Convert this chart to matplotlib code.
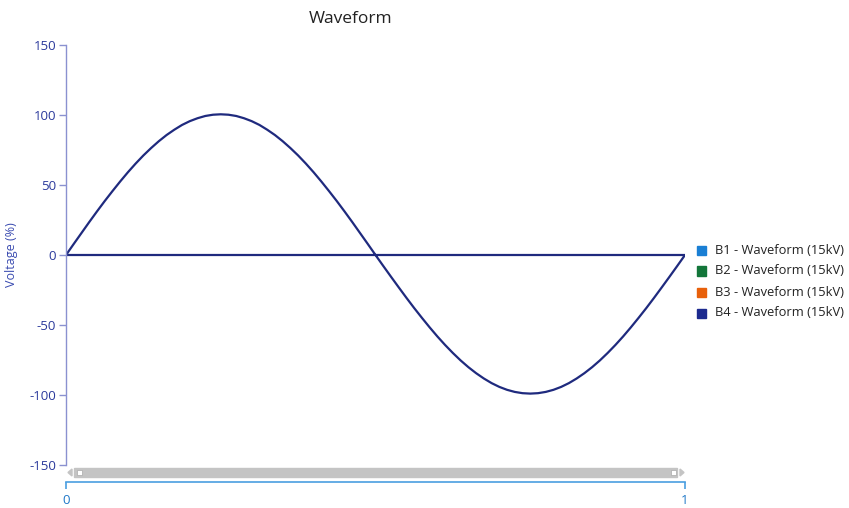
import matplotlib
matplotlib.use("Agg")
import matplotlib.pyplot as plt
from matplotlib.patches import Rectangle, Polygon

# Data (samples every 1/80 of the x range)
x_vals = [i / 80 for i in range(81)]
b4_vals = [0, 7.9, 15.7, 23.5, 31.1, 38.5, 45.6, 52.5, 59.1, 65.3,
           71.1, 76.4, 81.3, 85.7, 89.5, 92.9, 95.6, 97.7, 99.3, 100.2,
           100.5, 100.2, 99.3, 97.7, 95.6, 92.9, 89.5, 85.7, 81.3, 76.4,
           71.1, 65.3, 59.1, 52.5, 45.6, 38.5, 31.1, 23.5, 15.7, 7.9,
           0, -7.8, -15.5, -23.1, -30.6, -37.9, -44.9, -51.7, -58.2, -64.3,
           -70, -75.3, -80.1, -84.4, -88.2, -91.5, -94.2, -96.3, -97.8, -98.7,
           -99, -98.7, -97.8, -96.3, -94.2, -91.5, -88.2, -84.4, -80.1, -75.3,
           -70, -64.3, -58.2, -51.7, -44.9, -37.9, -30.6, -23.1, -15.5, -7.8,
           0]
# trace returns along the zero line
return_x = [1.0, 0.0]
return_y = [0, 0]

series_names = ["B1 - Waveform (15kV)", "B2 - Waveform (15kV)",
                "B3 - Waveform (15kV)", "B4 - Waveform (15kV)"]
series_colors = ["#1a7fd4", "#13763a", "#e8600a", "#1c2a8f"]

y_ticks = [-150, -100, -50, 0, 50, 100, 150]
x_ticks = [0, 1]

plt.rcParams['font.family'] = ['Open Sans', 'DejaVu Sans']
plt.rcParams['axes.unicode_minus'] = False

W, H = 849, 508
fig = plt.figure(figsize=(W / 100, H / 100), dpi=100)

def fx(px):
    return px / W

def fy(py):
    return 1 - py / H

ax = fig.add_axes([fx(66), fy(465), fx(685) - fx(66), fy(45) - fy(465)])
ax.plot(x_vals + return_x, b4_vals + return_y, color="#1f2a7e", lw=1.6,
        solid_joinstyle="round")
ax.set_xlim(0, 1)
ax.set_ylim(-150, 150)

spine_col = "#8a91d0"
label_col = "#2b3a9c"
for s in ["top", "right", "bottom"]:
    ax.spines[s].set_visible(False)
ax.spines["left"].set_color(spine_col)
ax.spines["left"].set_linewidth(1.0)
ax.set_xticks([])
ax.set_yticks(y_ticks)
ax.tick_params(axis="y", colors=spine_col, length=5, width=1,
               labelcolor=label_col, labelsize=9.5, pad=2)
ax.set_ylabel("Voltage (%)", color="#3a4bb0", fontsize=9)
ax.yaxis.set_label_coords((18 - 66) / 619, 0.5)

fig.text(fx(351), fy(19), "Waveform", ha="center", va="center",
         fontsize=12.5, color="#222222")

# bottom x axis
bx = fig.add_axes([fx(66), fy(482), fx(685) - fx(66), 0.0001])
bx.set_xlim(0, 1)
bx.set_yticks([])
for s in ["top", "right", "left"]:
    bx.spines[s].set_visible(False)
axis_blue = "#4a9ee0"
bx.spines["bottom"].set_color(axis_blue)
bx.spines["bottom"].set_linewidth(1.2)
bx.set_xticks(x_ticks)
bx.set_xticklabels([str(t) for t in x_ticks])
bx.tick_params(axis="x", colors=axis_blue, length=5, width=1.2,
               labelcolor="#1f78c8", labelsize=9.5, pad=4)

# scrollbar
fig.patches.append(Rectangle((fx(74), fy(477)), fx(677) - fx(74), fy(468) - fy(477),
                             transform=fig.transFigure, color="#c4c4c4", zorder=1))
for px in (77, 671):
    fig.patches.append(Rectangle((fx(px), fy(475)), fx(5), fy(470) - fy(475),
                                 transform=fig.transFigure, facecolor="white",
                                 edgecolor="#aaaaaa", lw=0.5, zorder=2))
fig.patches.append(Polygon([(fx(72), fy(469)), (fx(72), fy(476)), (fx(68), fy(472.5))],
                           closed=True, transform=fig.transFigure, color="#c4c4c4"))
fig.patches.append(Polygon([(fx(680), fy(469)), (fx(680), fy(476)), (fx(684), fy(472.5))],
                           closed=True, transform=fig.transFigure, color="#c4c4c4"))

# legend
for i, (name, col) in enumerate(zip(series_names, series_colors)):
    yy = 250 + i * 21
    fig.patches.append(Rectangle((fx(697), fy(yy + 4.5)), fx(9), fy(yy - 4.5) - fy(yy + 4.5),
                                 transform=fig.transFigure, color=col))
    fig.text(fx(715), fy(yy), name, ha="left", va="center", fontsize=9.3,
             color="#222222")

fig.savefig("out.png", dpi=100)
